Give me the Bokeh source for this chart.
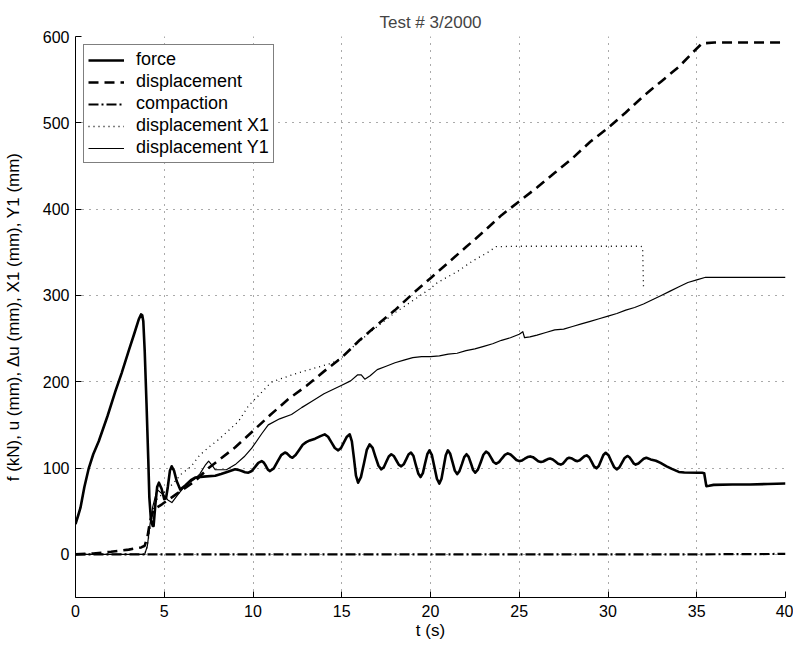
from bokeh.plotting import figure
from bokeh.models import Range1d, Legend, LegendItem, FixedTicker
from bokeh.embed import file_html
from bokeh.resources import INLINE

# ---- data ----
t_force = [0, 0.15, 0.28, 0.5, 0.75, 1.0, 1.31, 1.8, 2.25, 2.6, 3.0, 3.3, 3.56, 3.69, 3.76, 3.82, 3.9,
           4.0, 4.1, 4.16, 4.25, 4.35, 4.4, 4.5, 4.6, 4.7, 4.85, 5.0, 5.1, 5.2, 5.32, 5.42, 5.55, 5.7,
           5.9, 6.2, 6.5, 6.74, 7.2, 7.87, 8.2, 8.5, 8.99,
           9.18, 9.37, 9.55, 9.74, 9.93, 10.12, 10.3, 10.49, 10.61, 10.73, 10.84, 10.96,
           11.17, 11.38, 11.59, 11.8, 11.9, 12.01, 12.11, 12.22, 12.4, 12.6, 12.8, 13.0, 13.2, 13.5,
           13.8, 14.04, 14.23, 14.42, 14.61, 14.8, 14.96, 15.12, 15.29, 15.45, 15.57, 15.69, 15.8,
           15.92, 16.08, 16.25, 16.41, 16.57, 16.74, 16.9, 17.07, 17.23, 17.37, 17.51, 17.65, 17.79,
           17.93, 18.07, 18.21, 18.35, 18.49, 18.63, 18.76, 18.9, 19.04, 19.17, 19.31, 19.44, 19.57,
           19.69, 19.82, 19.94, 20.08, 20.22, 20.36, 20.5, 20.62, 20.74, 20.86, 20.98, 21.11, 21.24,
           21.37, 21.5, 21.63, 21.77, 21.9, 22.03, 22.15, 22.28, 22.4, 22.52, 22.67, 22.83, 22.98,
           23.13, 23.27, 23.41, 23.55, 23.69, 23.86, 24.02, 24.19, 24.35, 24.51, 24.68, 24.84, 25.0,
           25.16, 25.31, 25.47, 25.62, 25.77, 25.92, 26.07, 26.22, 26.35, 26.48, 26.61, 26.74, 26.89,
           27.04, 27.19, 27.34, 27.46, 27.58, 27.69, 27.81, 27.93, 28.05, 28.16, 28.28, 28.41, 28.54,
           28.67, 28.8, 28.94, 29.08, 29.21, 29.35, 29.48, 29.61, 29.74, 29.87, 30.03, 30.18, 30.34,
           30.49, 30.64, 30.79, 30.94, 31.09, 31.21, 31.33, 31.44, 31.56, 31.71, 31.86, 32.01, 32.16,
           32.4, 32.7, 32.96, 33.3, 33.6, 33.99, 34.3, 35.1, 35.3, 35.42, 35.54, 35.7, 35.95, 37, 38,
           39, 40]
force = [35, 45, 54, 78, 100, 116, 131, 160, 189, 210, 236, 255, 272, 278, 277, 270, 235,
         175, 110, 66, 40, 33, 33, 58, 78, 83, 76, 64, 65, 78, 97, 102, 97, 85,
         75, 80, 86, 89, 90, 91, 93, 95, 98.5,
         97.9, 96.5, 95.2, 94.6, 96.6, 101.3, 106, 108, 106.3, 102.3, 98.2, 96.5,
         99.6, 107.3, 114.9, 118, 117.1, 115, 112.9, 112, 115, 121, 127, 130, 132, 134,
         137, 139, 136.3, 129.8, 123.2, 120.5, 123.2, 129.8, 136.3, 139, 130.8, 111, 91.2,
         83, 89.5, 105.3, 121, 127.5, 123.3, 113, 102.7, 98.5, 101, 107.3, 113.4, 116,
         114, 109, 104, 102, 104.3, 110, 115.7, 118, 113.9, 103.8, 93.7, 89.6, 94.1,
         105, 116, 120.5, 114.9, 101.3, 87.6, 82, 87.6, 101.3, 114.9, 120.5, 116.5, 106.8,
         97, 93, 96.4, 104.5, 112.6, 116, 112.9, 105.3, 97.7, 94.6, 98.2, 106.8, 115.4,
         119, 117, 112, 107, 105, 106.8, 111, 115.2, 117, 115.7, 112.5, 109.3, 108,
         108.8, 110.8, 112.7, 113.5, 112.6, 110.3, 107.9, 107, 107.6, 109, 110.4, 111, 110,
         107.5, 105, 104, 105.2, 108, 110.8, 112, 111.4, 110, 108.6, 108, 109, 111.4,
         113.7, 114.7, 112.5, 107.2, 101.9, 99.7, 102.3, 108.7, 115.1, 117.7, 114.9, 108.1, 101.3,
         98.5, 100.8, 106.3, 111.7, 114, 112.5, 109, 105.5, 104, 105.2, 108, 110.8, 112,
         110, 108.5, 106, 102, 99, 95.5, 94.8, 94.6, 94.6, 94, 79, 79.5, 80.5, 81, 81,
         81.5, 82]

t_disp = [0, 1, 2, 3, 3.7, 3.9, 4.05, 4.2, 4.4, 4.87, 5.7, 6.74, 7.5, 8.0, 9.0, 10.0, 11.0, 12.0, 13.0,
          14.0, 15.0, 16.0, 17.0, 18.0, 19.0, 20.0, 21.0, 22.0, 23.0, 24.0, 25.0, 26.0, 27.0, 28.0, 29.0,
          30.0, 31.0, 32.0, 33.0, 34.0, 34.8, 35.3, 36, 37, 38, 39, 40]
disp = [0, 1, 3, 5.5, 8, 10, 20, 38, 52, 58, 70, 85, 100, 108, 124, 143, 162, 180, 195,
        212, 228, 248, 266, 283, 302, 320, 338, 356, 374, 393, 409, 425, 442, 459, 478,
        494, 512, 531, 548, 565, 582, 592, 593, 593, 593, 593, 593]

t_comp = [0, 10, 20, 30, 35, 40]
comp = [0, 0, 0, 0, 0, 0.5]

t_x1 = [0, 3.8, 4.0, 4.2, 4.4, 4.6, 5.0, 5.5, 5.96, 6.52, 7.0, 7.5, 8.06, 9.18, 9.74, 10.5, 11.0, 11.5,
        12.36, 13.0, 13.86, 14.5, 15.0, 15.5, 16, 17, 18, 19, 20, 20.4, 21.54, 22.38, 23.2, 23.7, 25,
        30, 31.84, 31.95, 32.0]
x1 = [0, 0, 4, 30, 55, 64, 72, 82, 93, 102, 115, 124, 133, 154, 172, 188, 199, 203,
      209, 213, 218, 222, 228, 238, 247, 264, 280, 294, 308, 315, 328, 340, 349.5, 356.5, 357,
      357, 357, 356, 310]

t_y1 = [0, 3.9, 4.05, 4.2, 4.35, 4.6, 4.9, 5.2, 5.43, 5.8, 6.2, 6.7, 7.0, 7.3, 7.5, 7.7, 7.87, 8.5, 9.0,
        9.5, 9.93, 10.5, 10.86, 11.5, 12.17, 12.74, 13.3, 14, 14.5, 15, 15.5, 15.9, 16.1, 16.3, 16.6, 17,
        17.5, 18, 18.5, 19, 19.5, 20, 20.5, 21, 21.5, 22, 22.5, 23, 23.5, 24, 24.5, 25, 25.2, 25.3, 25.6,
        26, 26.5, 27, 27.5, 28, 28.5, 29, 29.5, 30, 30.5, 31, 31.5, 32, 32.5, 33, 33.5, 34, 34.5, 35,
        35.5, 36, 40]
y1 = [0, 0, 10, 35, 55, 75, 70, 63, 60, 70, 80, 87, 93, 103, 108, 103, 98, 98, 104,
      113, 123, 140, 150, 157, 162, 170, 177, 186, 191, 196, 201, 208, 208, 203, 207, 214,
      218, 222, 225, 228, 229, 229, 230, 232, 233, 236, 238, 241, 244, 248, 251, 255, 258, 251, 252,
      254, 257, 260, 261, 264, 267, 270, 273, 276, 279, 283, 286, 290, 295, 300, 305, 310, 315, 318,
      321, 321, 321]

x_ticks = [0, 5, 10, 15, 20, 25, 30, 35, 40]
y_ticks = [0, 100, 200, 300, 400, 500, 600]

FONT = "Liberation Sans"

p = figure(width=793, height=642, output_backend="svg", toolbar_location=None,
           x_range=Range1d(0, 40), y_range=Range1d(-50, 600),
           title="Test # 3/2000",
           min_border_left=73, min_border_right=8, min_border_top=36, min_border_bottom=45)
p.background_fill_color = "white"
p.border_fill_color = "white"
p.outline_line_color = None

p.title.align = "center"
p.title.text_font = FONT
p.title.text_font_style = "normal"
p.title.text_font_size = "17px"
p.title.standoff = 10

for ax in (p.xaxis[0], p.yaxis[0]):
    ax.major_label_text_font = FONT
    ax.major_label_text_font_size = "16px"
    ax.axis_label_text_font = FONT
    ax.axis_label_text_font_size = "17px"
    ax.axis_label_text_font_style = "normal"
    ax.major_tick_in = 6
    ax.major_tick_out = 0
    ax.minor_tick_in = 0
    ax.minor_tick_out = 0
    ax.axis_line_color = "black"
    ax.major_tick_line_color = "black"
    ax.major_label_text_color = "black"
    ax.axis_label_text_color = "black"

p.xaxis.ticker = FixedTicker(ticks=x_ticks)
p.yaxis.ticker = FixedTicker(ticks=y_ticks)
p.xaxis.axis_label = "t (s)"
p.yaxis.axis_label = "f (kN), u (mm), \u0394u (mm), X1 (mm), Y1 (mm)"
p.xaxis.major_label_standoff = 7
p.yaxis.major_label_standoff = 6
p.xaxis.axis_label_standoff = 1
p.yaxis.axis_label_standoff = 17

p.xgrid.grid_line_color = "#555555"
p.ygrid.grid_line_color = "#555555"
p.xgrid.grid_line_dash = "1 6"
p.ygrid.grid_line_dash = "1 6"
p.xgrid.grid_line_width = 1
p.ygrid.grid_line_width = 1

r_force = p.line(t_force, force, line_color="black", line_width=2.6, line_join="round")
r_disp = p.line(t_disp, disp, line_color="black", line_width=2.6, line_dash="10 6")
r_comp = p.line(t_comp, comp, line_color="black", line_width=2.2, line_dash="10 3 2 3")
r_x1 = p.line(t_x1, x1, line_color="black", line_width=1.3, line_dash="1 4")
r_y1 = p.line(t_y1, y1, line_color="black", line_width=1.2, line_join="round")

legend = Legend(items=[
    LegendItem(label="force", renderers=[r_force]),
    LegendItem(label="displacement", renderers=[r_disp]),
    LegendItem(label="compaction", renderers=[r_comp]),
    LegendItem(label="displacement X1", renderers=[r_x1]),
    LegendItem(label="displacement Y1", renderers=[r_y1]),
], location="top_left")
legend.label_text_font = FONT
legend.label_text_font_size = "18px"
legend.label_text_color = "black"
legend.border_line_color = "black"
legend.border_line_width = 1
legend.background_fill_color = "white"
legend.background_fill_alpha = 1
legend.glyph_width = 36
legend.glyph_height = 20
legend.label_height = 20
legend.spacing = 1
legend.padding = 4
legend.margin = 8
legend.label_standoff = 12
p.add_layout(legend)

open("out.html", "w").write(file_html(p, INLINE))
